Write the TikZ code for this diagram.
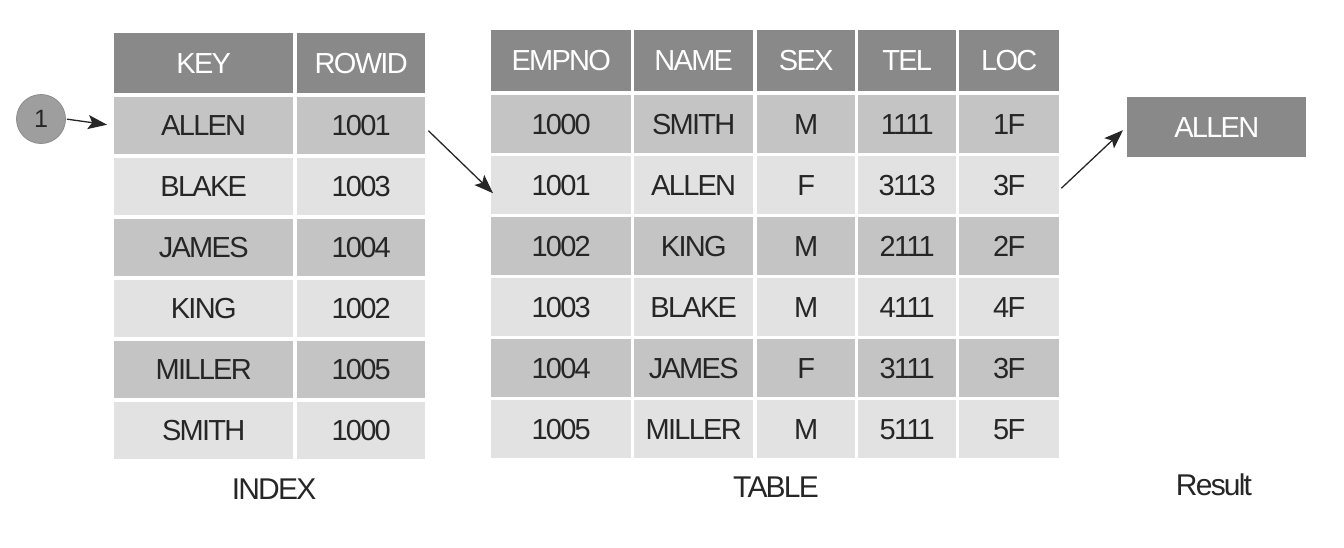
\documentclass[tikz,border=0pt]{standalone}
\usepackage{fontspec}
\setmainfont{Liberation Sans}[LetterSpace=-6]
\usetikzlibrary{arrows.meta,calc}
\definecolor{hdr}{HTML}{898989}
\definecolor{dark}{HTML}{C4C4C4}
\definecolor{light}{HTML}{E2E2E2}
\definecolor{txt}{HTML}{262626}
\tikzset{
  cell/.style={anchor=north west, inner sep=0pt, text=txt, font=\fontsize{29}{29}\selectfont},
  hcell/.style={cell, fill=hdr, text=white},
  lbl/.style={text=txt, font=\fontsize{30}{30}\selectfont},
  arr/.style={line width=1.3pt, draw=txt, -{Stealth[length=19pt,width=14pt,inset=4pt]}}
}
\begin{document}
\begin{tikzpicture}[x=1pt,y=-1pt]
\useasboundingbox (0,0) rectangle (1344,547);
% INDEX table
\foreach \c/\x/\w/\t in {1/114/179/KEY, 2/297/128/ROWID}
  \node[hcell, minimum width=\w pt, minimum height=60pt] (i-0-\c) at (\x,33) {\t};
\foreach \r/\k/\v in {1/ALLEN/1001, 2/BLAKE/1003, 3/JAMES/1004, 4/KING/1002, 5/MILLER/1005, 6/SMITH/1000}{
  \pgfmathsetmacro{\y}{97+61*(\r-1)}
  \pgfmathparse{mod(\r,2)==1 ? "dark" : "light"}
  \edef\fc{\pgfmathresult}
  \node[cell, fill=\fc, minimum width=179pt, minimum height=57pt] (i-\r-1) at (114,\y) {\k};
  \node[cell, fill=\fc, minimum width=128pt, minimum height=57pt] (i-\r-2) at (297,\y) {\v};
}
% TABLE
\foreach \c/\x/\w/\t in {1/491/140/EMPNO, 2/634/119/NAME, 3/757/98/SEX, 4/858/98/TEL, 5/959/100/LOC}
  \node[hcell, minimum width=\w pt, minimum height=61pt] (t-0-\c) at (\x,30) {\t};
\foreach \r/\a/\b/\s/\p/\l in {1/1000/SMITH/M/1111/1F, 2/1001/ALLEN/F/3113/3F, 3/1002/KING/M/2111/2F, 4/1003/BLAKE/M/4111/4F, 5/1004/JAMES/F/3111/3F, 6/1005/MILLER/M/5111/5F}{
  \pgfmathsetmacro{\y}{95+61*(\r-1)}
  \pgfmathparse{mod(\r,2)==1 ? "dark" : "light"}
  \edef\fc{\pgfmathresult}
  \node[cell, fill=\fc, minimum width=140pt, minimum height=58pt] (t-\r-1) at (491,\y) {\a};
  \node[cell, fill=\fc, minimum width=119pt, minimum height=58pt] (t-\r-2) at (634,\y) {\b};
  \node[cell, fill=\fc, minimum width=98pt, minimum height=58pt] (t-\r-3) at (757,\y) {\s};
  \node[cell, fill=\fc, minimum width=98pt, minimum height=58pt] (t-\r-4) at (858,\y) {\p};
  \node[cell, fill=\fc, minimum width=100pt, minimum height=58pt] (t-\r-5) at (959,\y) {\l};
}
% Result
\node[hcell, minimum width=179pt, minimum height=60pt] (res) at (1127,97) {ALLEN};
% circle
\node[circle, fill=black!38, draw=black!45, line width=0.8pt, minimum size=49pt, inner sep=0pt, text=txt, font=\fontsize{25}{25}\selectfont] (one) at (41,119) {1};
% labels
\node[lbl] (lidx) at (274,489) {INDEX};
\node[lbl] (ltab) at (776,487) {TABLE};
\node[lbl] (lres) at (1214,485) {Result};
% arrows
\draw[arr, shorten >=7pt, shorten <=1pt] (one.east) -- (i-1-1.west);
\coordinate (a2s) at ($(i-1-2.east)+(3,5)$);
\coordinate (a2e) at ($(t-2-1.west)+(2,8)$);
\draw[arr] (a2s) -- (a2e);
\coordinate (a3s) at ($(t-2-5.east)+(2,3)$);
\coordinate (a3e) at ($(res.west)+(-4,3)$);
\draw[arr] (a3s) -- (a3e);
\end{tikzpicture}
\end{document}
